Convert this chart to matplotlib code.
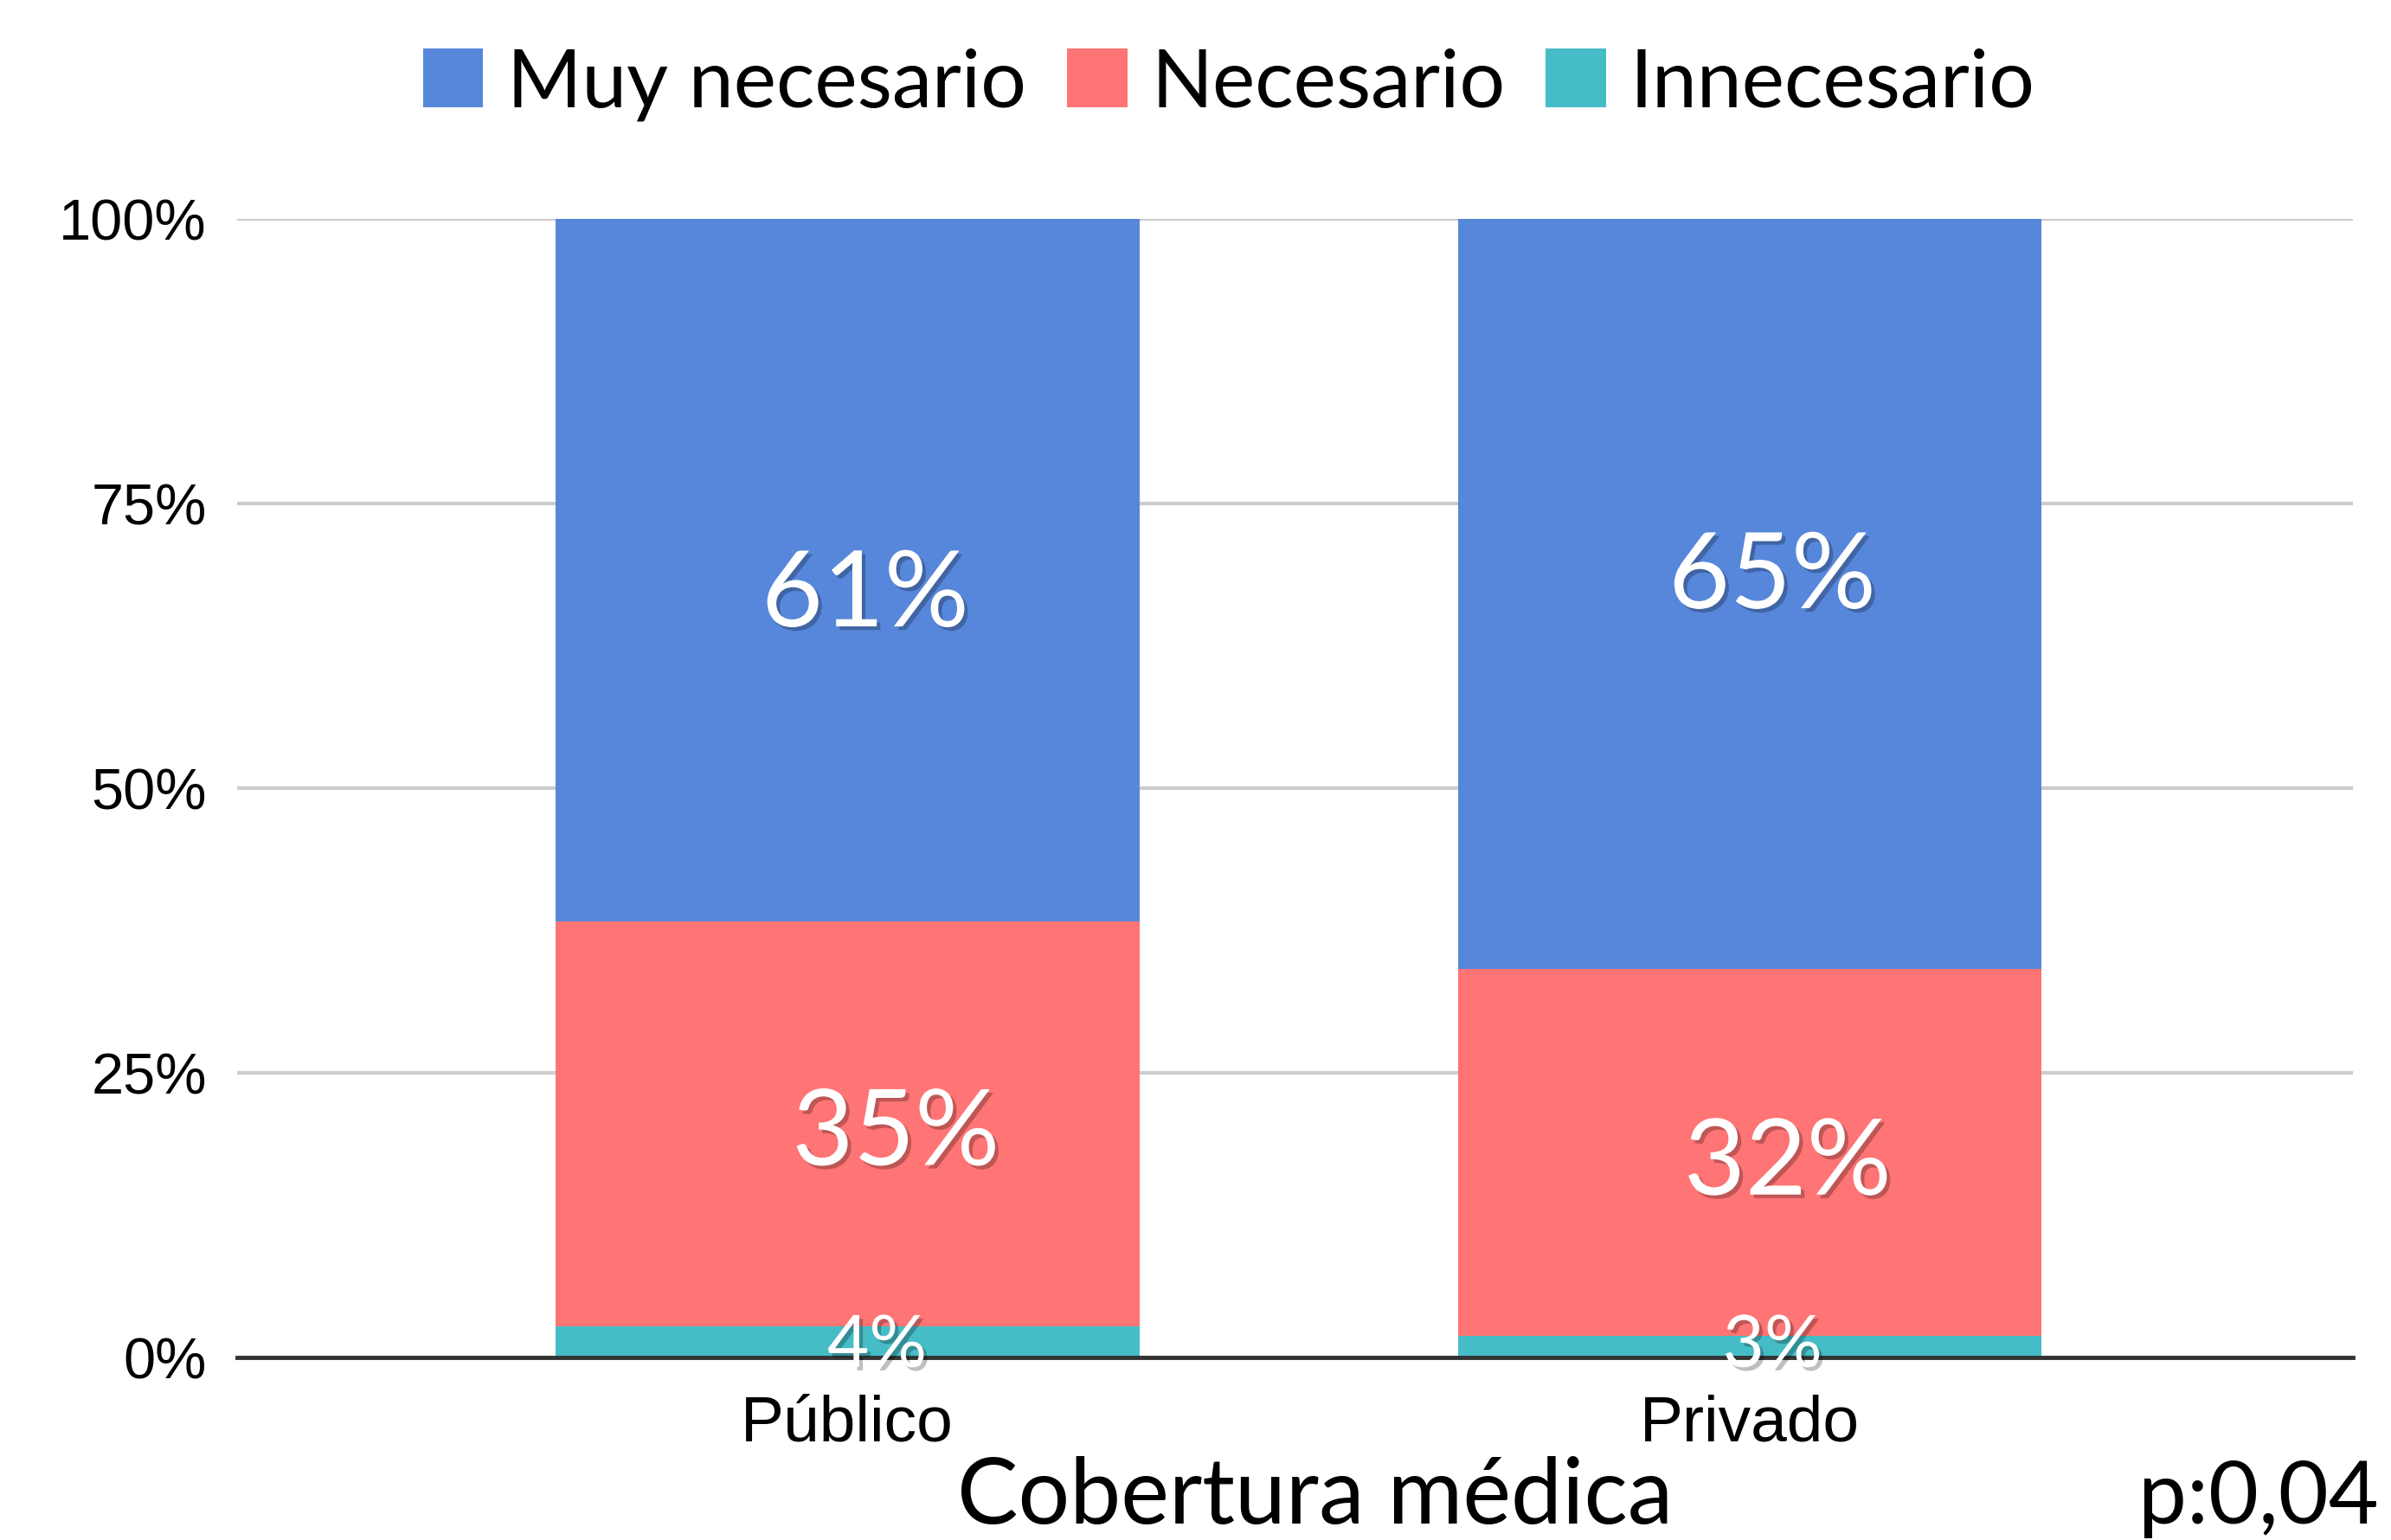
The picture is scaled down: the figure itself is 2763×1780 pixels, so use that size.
import matplotlib.pyplot as plt
import matplotlib.patheffects as pe
import numpy as np

# segment heights (percent of total)
categories = ['Público', 'Privado']
innecesario = [2.7, 1.9]
necesario = [35.6, 32.2]
muy_necesario = [61.7, 65.9]

# label texts written on the bars
lbl_muy = ['61%', '65%']
lbl_nec = ['35%', '32%']
lbl_inn = ['4%', '3%']
yticks = [0, 25, 50, 75, 100]

c_blue = '#5787DB'
c_red = '#FF7474'
c_teal = '#46BDC6'

fig = plt.figure(figsize=(27.63, 17.81), dpi=100)
ax = fig.add_axes([0.099, 0.1187, 0.885, 0.7389])

x = np.arange(len(categories))
w = 0.647
b1 = ax.bar(x, innecesario, w, color=c_teal, label='Innecesario', zorder=3)
b2 = ax.bar(x, necesario, w, bottom=innecesario, color=c_red, label='Necesario', zorder=3)
bot3 = np.array(innecesario) + np.array(necesario)
b3 = ax.bar(x, muy_necesario, w, bottom=bot3, color=c_blue, label='Muy necesario', zorder=3)

ax.set_xlim(-0.6765, 1.668)
ax.set_ylim(0, 100)
ax.set_yticks(yticks)
ax.set_yticklabels([f'{t}%' for t in yticks], family='Liberation Sans', fontsize=48)
ax.set_xticks(x)
ax.set_xticklabels(categories, family='Liberation Sans', fontsize=54)
ax.tick_params(axis='both', length=0)
ax.tick_params(axis='y', pad=25)
ax.tick_params(axis='x', pad=30)
ax.grid(axis='y', color='#CCCCCC', linewidth=3, zorder=0)
for s in ['top', 'right', 'left']:
    ax.spines[s].set_visible(False)
ax.spines['bottom'].set_color('#333333')
ax.spines['bottom'].set_linewidth(3.5)
ax.spines['bottom'].set_zorder(4)

shadow = [pe.withSimplePatchShadow(offset=(3, -3), shadow_rgbFace='k', alpha=0.25)]
big = dict(family='Lato', color='white', ha='center', va='center', zorder=5, path_effects=shadow)

# label positions (value-axis) as placed in the picture
pos_muy = [66.8, 68.4]
pos_nec = [19.5, 16.9]
pos_inn = [0.9, 0.9]
dx_muy = [0.02, 0.025]
dx_nec = [0.054, 0.042]
dx_inn = [0.033, 0.025]
for i in range(len(categories)):
    ax.text(x[i] + dx_muy[i], pos_muy[i], lbl_muy[i], fontsize=88, **big)
    ax.text(x[i] + dx_nec[i], pos_nec[i], lbl_nec[i], fontsize=88, **big)
    ax.text(x[i] + dx_inn[i], pos_inn[i], lbl_inn[i], fontsize=60, **big)

handles = [b3, b2, b1]
leg = fig.legend(handles, [h.get_label() for h in handles], loc='center',
                 bbox_to_anchor=(0.514, 0.945), ncol=3, frameon=False,
                 prop={'family': 'Lato', 'size': 67}, handlelength=0.75,
                 handleheight=0.75, handletextpad=0.3, columnspacing=0.5)

fig.text(0.55, 0.011, 'Cobertura médica', family='Lato', fontsize=76,
         ha='center', va='baseline')
fig.text(0.995, 0.011, 'p:0,04', family='Lato', fontsize=72,
         ha='right', va='baseline')

fig.savefig('out.png', dpi=100)
